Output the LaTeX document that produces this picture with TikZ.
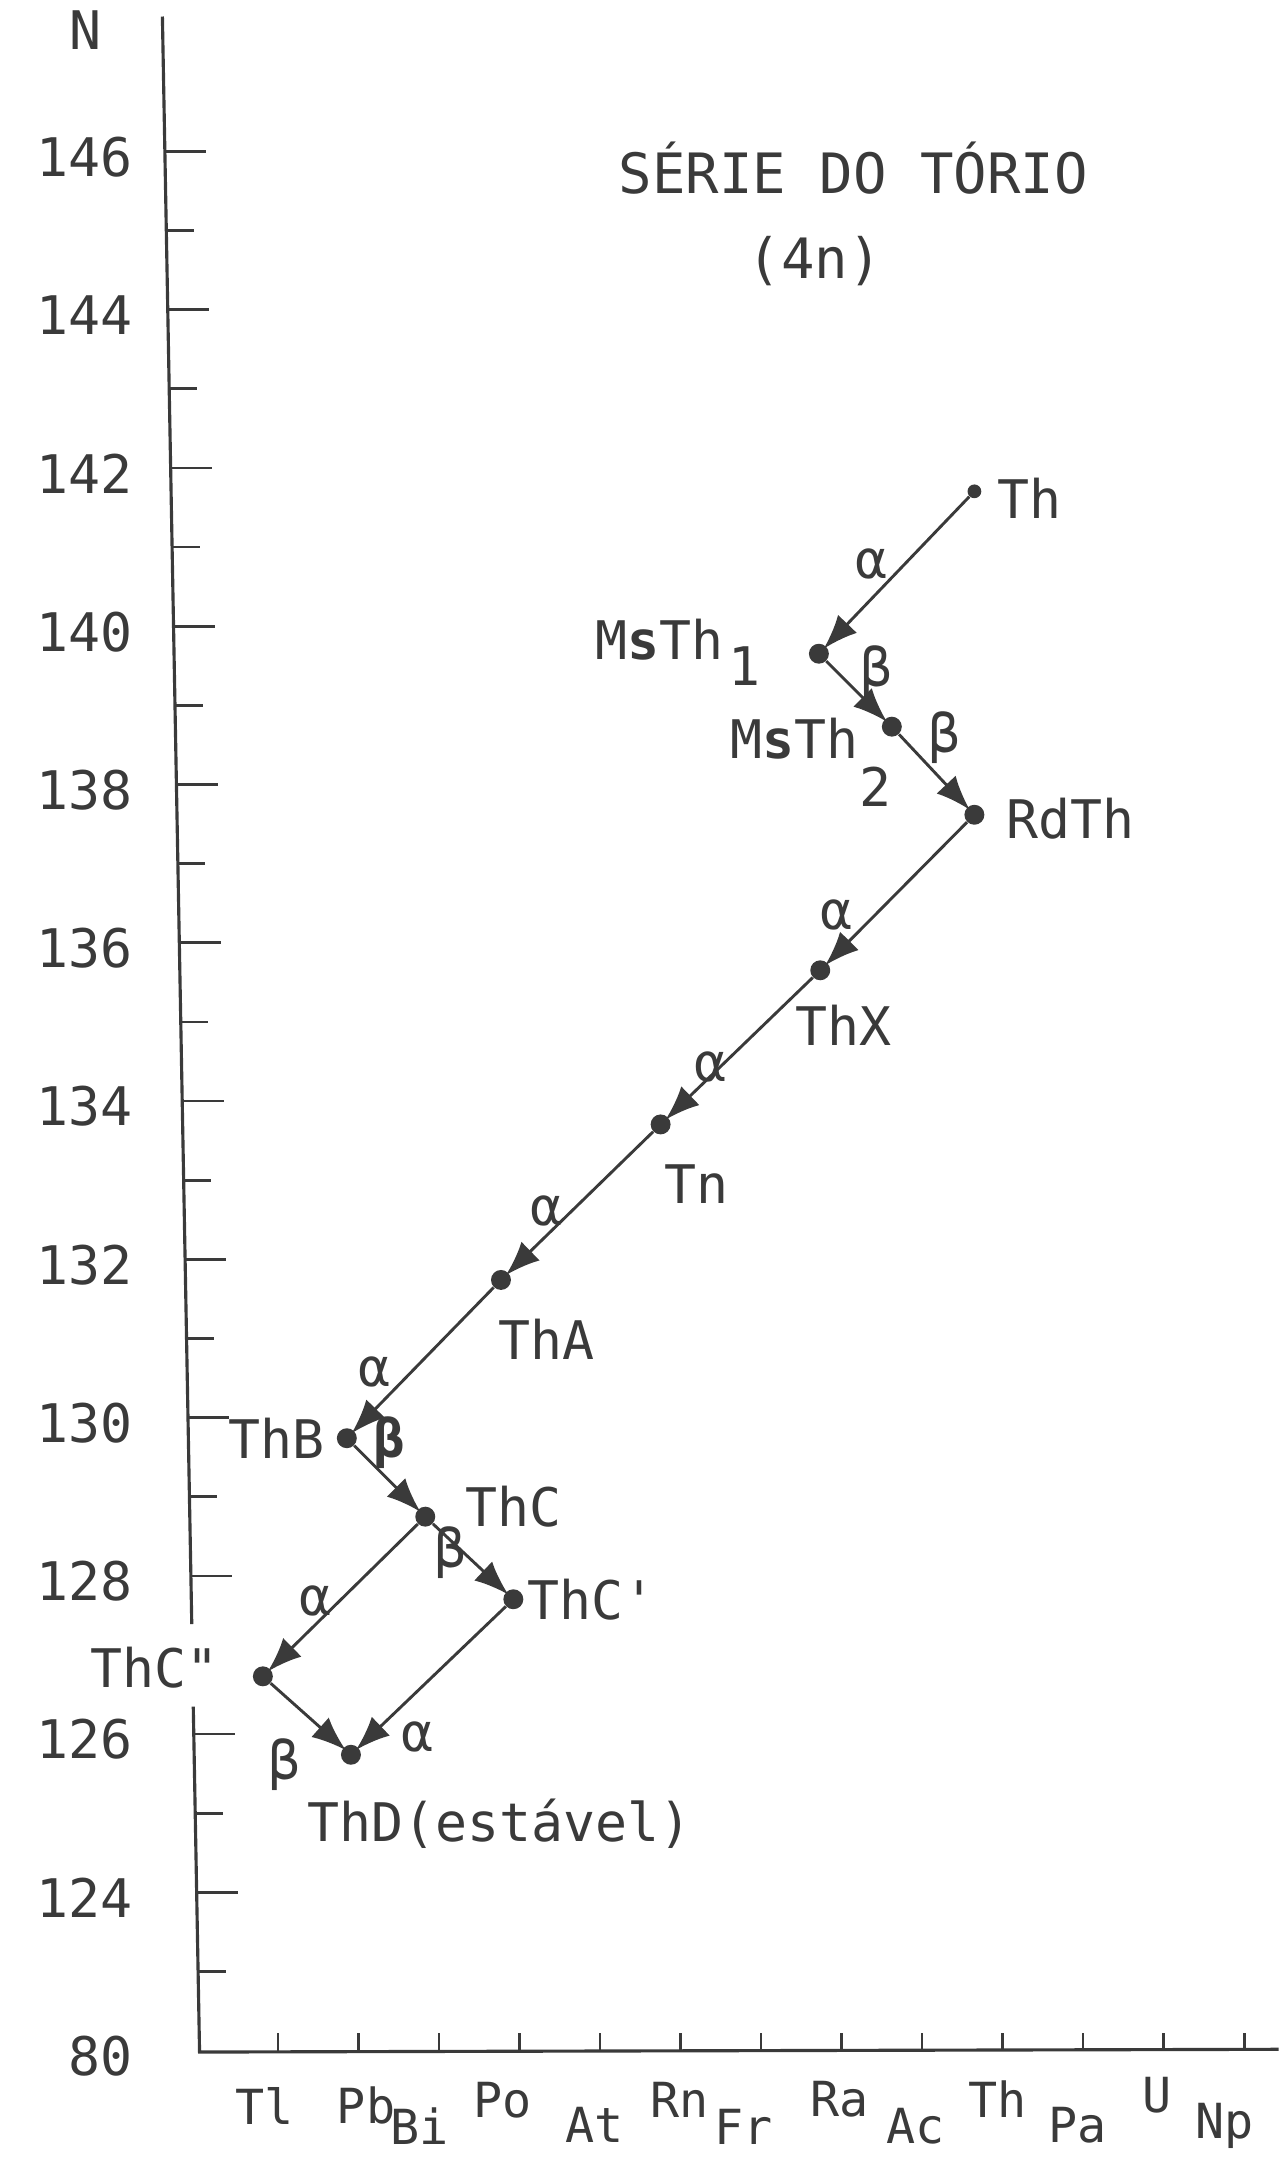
\documentclass[tikz,border=0pt]{standalone}
\usepackage{fontspec}
\setmainfont{DejaVu Sans Mono}[Ligatures=TeXOff]
\usetikzlibrary{arrows.meta}
\definecolor{ink}{HTML}{3A3A3A}
\begin{document}
\begin{tikzpicture}[x=0.02cm,y=-0.02cm,
  axisline/.style={draw=ink, line width=1.3pt},
  dot/.style={circle, fill=ink, draw=none, inner sep=0pt, minimum size=0.29cm},
  smalldot/.style={dot, minimum size=0.2cm},
  decay/.style={draw=ink, line width=1.2pt, shorten >=-1.5pt, -{Latex[length=0.5cm,width=0.38cm]}},
  lbl/.style={text=ink, font=\fontsize{22}{26}\selectfont, inner sep=0pt},
  xlbl/.style={text=ink, font=\fontsize{20}{24}\selectfont, inner sep=0pt},
  greek/.style={text=ink, font=\fontsize{22}{26}\selectfont, inner sep=0pt},
  title/.style={text=ink, font=\fontsize{23}{27}\selectfont, inner sep=0pt}]
\useasboundingbox (0,0) rectangle (929,1568);

% ---- vertical axis (slightly slanted, broken near ThC'') ----
\coordinate (ytop) at (118,12);
\coordinate (ybrk1) at ({118+(1180-12)/1478*27},1180);
\coordinate (ybrk2) at ({118+(1240-12)/1478*27},1240);
\coordinate (orig) at (145,1491);
\coordinate (xend) at (929,1489);
\draw[axisline] (ytop) -- (ybrk1);
\draw[axisline] (ybrk2) -- (orig) -- (xend);

% major ticks with labels
\foreach \n in {124,126,...,146} {
  \pgfmathsetmacro\yy{1030+(130-\n)*57.5}
  \pgfmathsetmacro\xx{118+(\yy-12)/1478*27}
  \draw[axisline, line width=1.1pt] (\xx,\yy) -- ++(30,0);
  \node[lbl, anchor=east] (lab\n) at (97,\yy+4) {\n};
}
% minor ticks
\foreach \n in {123,125,129,131,...,145} {
  \pgfmathsetmacro\yy{1030+(130-\n)*57.5}
  \pgfmathsetmacro\xx{118+(\yy-12)/1478*27}
  \draw[axisline, line width=1.1pt] (\xx,\yy) -- ++(20,0);
}
\node[lbl] (labN) at (62,22) {N};
\node[lbl, anchor=east] (lab80) at (97,1494) {80};

% x ticks
\foreach \k in {0,...,12} {
  \draw[axisline, line width=1.1pt] ({202+58.5*\k},1490) -- ++(0,-13);
}
% x labels
\node[xlbl] (xTl) at (192,1530) {Tl};
\node[xlbl] (xPb) at (266,1530) {Pb};
\node[xlbl] (xBi) at (305,1545) {Bi};
\node[xlbl] (xPo) at (365,1526) {Po};
\node[xlbl] (xAt) at (432,1544) {At};
\node[xlbl] (xRn) at (494,1526) {Rn};
\node[xlbl] (xFr) at (540,1545) {Fr};
\node[xlbl] (xRa) at (610,1525) {Ra};
\node[xlbl] (xAc) at (665,1545) {Ac};
\node[xlbl] (xTh) at (725,1525) {Th};
\node[xlbl] (xPa) at (783,1544) {Pa};
\node[xlbl] (xU)  at (841,1522) {U};
\node[xlbl] (xNp) at (890,1545) {Np};

% ---- title ----
\node[title] (t1) at (620,122) {SÉRIE DO TÓRIO};
\node[title] (t2) at (592,190) {(4n)};

% ---- nuclides ----
\node[smalldot] (Th)    at (708,357) {};
\node[dot] (MsTh1) at (595,475) {};
\node[dot] (MsTh2) at (648,528) {};
\node[dot] (RdTh)  at (708,592) {};
\node[dot] (ThX)   at (596,705) {};
\node[dot] (Tn)    at (480,817) {};
\node[dot] (ThA)   at (364,930) {};
\node[dot] (ThB)   at (252,1045) {};
\node[dot] (ThC)   at (309,1102) {};
\node[dot] (ThCp)  at (373,1162) {};
\node[dot] (ThCpp) at (191,1218) {};
\node[dot] (ThD)   at (255,1275) {};

% labels
\node[lbl] (lTh) at (748,362) {Th};
\node[lbl, anchor=east] (lMsTh1) at (526,465) {M{\bfseries s}Th};
\node[lbl] (lMsTh1i) at (541,484) {1};
\node[lbl, anchor=east] (lMsTh2) at (624,537) {M{\bfseries s}Th};
\node[lbl] (lMsTh2i) at (636,572) {2};
\node[lbl] (lRdTh) at (778,595) {RdTh};
\node[lbl] (lThX) at (613,745) {ThX};
\node[lbl] (lTn) at (506,860) {Tn};
\node[lbl] (lThA) at (397,973) {ThA};
\node[lbl] (lThB) at (201,1045) {ThB};
\node[lbl] (lThC) at (373,1095) {ThC};
\node[lbl] (lThCp) at (430,1162) {ThC'};
\node[lbl] (lThCpp) at (112,1212) {ThC"};
\node[lbl] (lThD) at (363,1325) {ThD(estável)};

% ---- decays ----
\draw[decay] (Th) -- (MsTh1);
\draw[decay] (MsTh1) -- (MsTh2);
\draw[decay] (MsTh2) -- (RdTh);
\draw[decay] (RdTh) -- (ThX);
\draw[decay] (ThX) -- (Tn);
\draw[decay] (Tn) -- (ThA);
\draw[decay] (ThA) -- (ThB);
\draw[decay] (ThB) -- (ThC);
\draw[decay] (ThC) -- (ThCp);
\draw[decay] (ThC) -- (ThCpp);
\draw[decay] (ThCpp) -- (ThD);
\draw[decay] (ThCp) -- (ThD);

% greek labels
\node[greek] (g1) at (633,410) {α};
\node[greek] (g2) at (637,488) {β};
\node[greek] (g3) at (686,536) {β};
\node[greek] (g4) at (608,665) {α};
\node[greek] (g5) at (516,775) {α};
\node[greek] (g6) at (397,880) {α};
\node[greek] (g7) at (272,997) {α};
\node[greek] (g8) at (283,1048) {\bfseries β};
\node[greek] (g9) at (327,1128) {β};
\node[greek] (g10) at (229,1163) {α};
\node[greek] (g11) at (207,1282) {β};
\node[greek] (g12) at (303,1262) {α};
\end{tikzpicture}
\end{document}
